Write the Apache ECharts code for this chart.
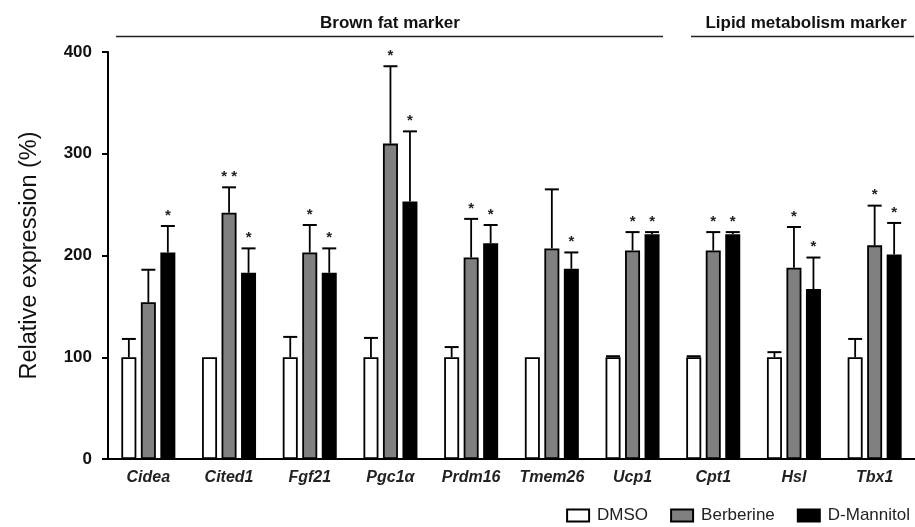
<!DOCTYPE html>
<html>
<head>
<meta charset="utf-8">
<script src="https://cdn.jsdelivr.net/npm/echarts@6/dist/echarts.min.js"></script>
<style>
html,body{margin:0;padding:0;background:#fff;}
#chart{width:915px;height:527px;}
</style>
</head>
<body>
<div id="chart"></div>
<script>
// ---- data ----
var categories = ['Cidea','Cited1','Fgf21','Pgc1\u03b1','Prdm16','Tmem26','Ucp1','Cpt1','Hsl','Tbx1'];
var seriesNames = ['DMSO','Berberine','D-Mannitol'];
var dmso        = [100, 100, 100, 100, 100, 100, 100, 100, 100, 100];
var dmsoSD      = [18, 0, 20, 19, 10, 0, 1, 1, 5, 18];
var berberine   = [154, 242, 203, 310, 198, 207, 205, 205, 188, 210];
var berberineSD = [32, 25, 27, 76, 38, 58, 18, 18, 40, 39];
var mannitol    = [203, 183, 183, 253, 212, 187, 221, 221, 167, 201];
var mannitolSD  = [26, 24, 24, 69, 18, 16, 2, 2, 31, 31];
var dmsoStars      = ['', '', '', '', '', '', '', '', '', ''];
var berberineStars = ['', '* *', '*', '*', '*', '', '*', '*', '*', '*'];
var mannitolStars  = ['*', '*', '*', '*', '*', '*', '*', '*', '*', '*'];
var yTicks = [0, 100, 200, 300, 400];
var groupLabels = ['Brown fat marker', 'Lipid metabolism marker'];

// ---- style ----
var FONT = '"Liberation Sans", Arial, Helvetica, sans-serif';
var BAR_W = 15;
var GAP_RATIO = 0.3;
var STEP = BAR_W * (1 + GAP_RATIO);
var fills = ['#ffffff', '#808080', '#000000'];
var means = [dmso, berberine, mannitol];
var sds = [dmsoSD, berberineSD, mannitolSD];
var stars = [dmsoStars, berberineStars, mannitolStars];

var chart = echarts.init(document.getElementById('chart'), null, {renderer: 'canvas'});

var series = [];
seriesNames.forEach(function (name, s) {
  series.push({
    name: name,
    type: 'bar',
    data: means[s],
    barWidth: BAR_W,
    barGap: (GAP_RATIO * 100) + '%',
    itemStyle: {color: fills[s], borderColor: '#000', borderWidth: 1.8},
    emphasis: {disabled: true},
    z: 2
  });
});
seriesNames.forEach(function (name, s) {
  var data = means[s].map(function (v, i) { return [i, v, sds[s][i]]; });
  series.push({
    type: 'custom',
    name: name + '-err',
    z: 5,
    silent: true,
    data: data,
    encode: {x: 0, y: 1},
    renderItem: function (params, api) {
      var i = api.value(0), v = api.value(1), sd = api.value(2);
      var p0 = api.coord([i, v]);
      var p1 = api.coord([i, v + sd]);
      var x = p0[0] + (s - 1) * STEP;
      var children = [];
      if (sd > 0) {
        children.push({type: 'line', shape: {x1: x, y1: p0[1], x2: x, y2: p1[1]}, style: {stroke: '#000', lineWidth: 1.8}});
        children.push({type: 'line', shape: {x1: x - 7, y1: p1[1], x2: x + 7, y2: p1[1]}, style: {stroke: '#000', lineWidth: 2}});
      }
      var st = stars[s][params.dataIndex];
      if (st) {
        children.push({type: 'text', x: x, y: p1[1] - 3, style: {text: st, fill: '#222', font: 'bold 15px ' + FONT, align: 'center', verticalAlign: 'bottom'}});
      }
      return {type: 'group', children: children};
    }
  });
});

chart.setOption({
  animation: false,
  backgroundColor: '#fff',
  grid: {left: 108, right: -4, top: 52, bottom: 68, containLabel: false},
  legend: {
    data: seriesNames,
    right: 5, bottom: 3, padding: 0,
    itemWidth: 22, itemHeight: 12, itemGap: 22,
    icon: 'rect',
    textStyle: {fontFamily: FONT, fontSize: 17, color: '#222', padding: [0, 0, 0, 3]}
  },
  xAxis: {
    type: 'category',
    data: categories,
    axisLine: {lineStyle: {color: '#000', width: 2}},
    axisTick: {show: false},
    axisLabel: {interval: 0, fontFamily: FONT, fontSize: 16, fontWeight: 'bold', fontStyle: 'italic', color: '#222', margin: 11}
  },
  yAxis: {
    type: 'value',
    min: yTicks[0], max: yTicks[yTicks.length - 1], interval: 100,
    splitLine: {show: false},
    axisLine: {show: true, lineStyle: {color: '#000', width: 2}},
    axisTick: {show: true, length: 6, lineStyle: {color: '#000', width: 2}},
    axisLabel: {fontFamily: FONT, fontSize: 17, fontWeight: 'bold', color: '#111', margin: 16},
    name: 'Relative expression (%)',
    nameLocation: 'middle',
    nameRotate: 90,
    nameGap: 66,
    nameTextStyle: {fontFamily: FONT, fontSize: 23.5, color: '#111'}
  },
  graphic: [
    {type: 'text', x: 390, y: 23, style: {text: groupLabels[0], font: 'bold 17px ' + FONT, fill: '#111', align: 'center', verticalAlign: 'middle'}},
    {type: 'line', shape: {x1: 116, y1: 36.5, x2: 663, y2: 36.5}, style: {stroke: '#222', lineWidth: 1.6}},
    {type: 'text', x: 806, y: 23, style: {text: groupLabels[1], font: 'bold 17px ' + FONT, fill: '#111', align: 'center', verticalAlign: 'middle'}},
    {type: 'line', shape: {x1: 691, y1: 36.5, x2: 914, y2: 36.5}, style: {stroke: '#222', lineWidth: 1.6}}
  ],
  series: series
});
</script>
</body>
</html>
